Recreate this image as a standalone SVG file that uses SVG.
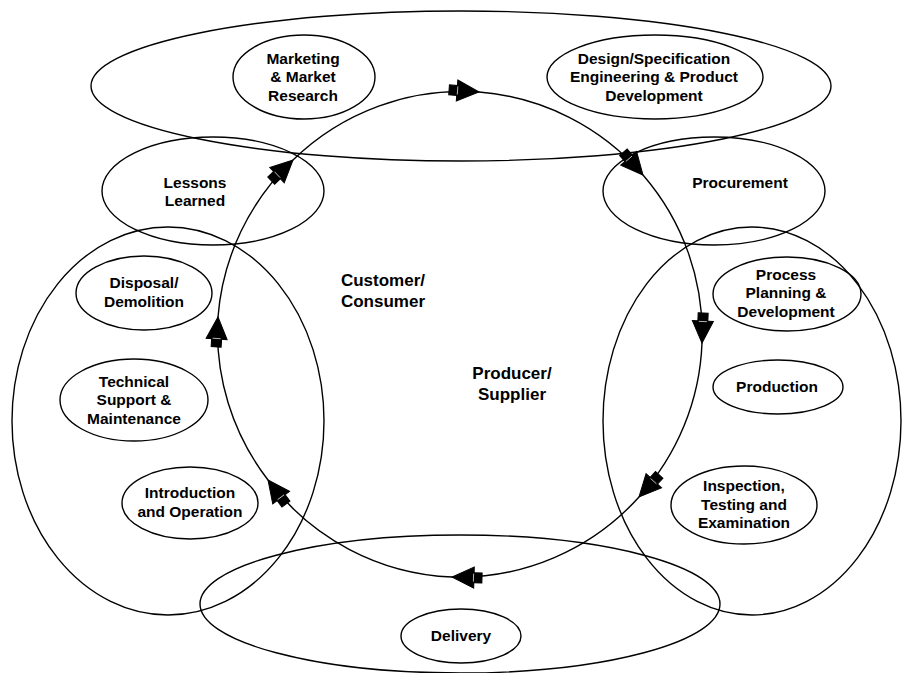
<svg xmlns="http://www.w3.org/2000/svg" width="903" height="673" viewBox="0 0 903 673">
  <style>
    .ring { fill: none; stroke: #000; stroke-width: 1.4; }
    .lbl { font-family: "Liberation Sans", Arial, sans-serif; font-weight: bold; font-size: 15.5px; text-anchor: middle; fill: #000; }
    .big { font-size: 17px; }
    .flow { fill: none; stroke: #000; stroke-width: 1.4; marker-end: url(#head); }
  </style>
  <defs>
    <!-- square collar followed by a solid triangular head, tip at the path end -->
    <marker id="head" markerUnits="userSpaceOnUse" markerWidth="40" markerHeight="30" refX="23" refY="0" orient="auto" overflow="visible">
      <rect x="-7" y="-5" width="8" height="10" fill="#000" stroke="#000" stroke-width="1"/>
      <path d="M1,-10.5 L23,0 L1,10.5 Z" fill="#000" stroke="#000" stroke-width="1" stroke-linejoin="miter"/>
      <line x1="1.5" y1="-4" x2="1.5" y2="4" stroke="#fff" stroke-width="0.7"/>
    </marker>
  </defs>

  <rect width="903" height="673" fill="#fff"/>

  <!-- large phase regions -->
  <g id="region-top"><ellipse class="ring" cx="461" cy="86" rx="370" ry="75"/></g>
  <g id="region-left"><ellipse class="ring" cx="168" cy="421" rx="156" ry="194"/></g>
  <g id="region-right"><ellipse class="ring" cx="752" cy="421" rx="149" ry="194"/></g>
  <g id="region-bottom"><ellipse class="ring" cx="460" cy="604" rx="260" ry="69"/></g>

  <!-- lifecycle stages -->
  <g id="marketing">
    <ellipse class="ring" cx="304" cy="77" rx="71" ry="42"/>
    <text class="lbl" x="303" y="64">Marketing</text>
    <text class="lbl" x="303" y="82">&amp; Market</text>
    <text class="lbl" x="303" y="101">Research</text>
  </g>
  <g id="design">
    <ellipse class="ring" cx="655" cy="77" rx="108" ry="42"/>
    <text class="lbl" x="654" y="64">Design/Specification</text>
    <text class="lbl" x="654" y="82">Engineering &amp; Product</text>
    <text class="lbl" x="654" y="101">Development</text>
  </g>
  <g id="lessons">
    <ellipse class="ring" cx="213" cy="191" rx="111" ry="54"/>
    <text class="lbl" x="195" y="188">Lessons</text>
    <text class="lbl" x="195" y="206">Learned</text>
  </g>
  <g id="procurement">
    <ellipse class="ring" cx="714" cy="191" rx="111" ry="54"/>
    <text class="lbl" x="740" y="188">Procurement</text>
  </g>
  <g id="disposal">
    <ellipse class="ring" cx="144" cy="293" rx="68" ry="37"/>
    <text class="lbl" x="144" y="288">Disposal/</text>
    <text class="lbl" x="144" y="307">Demolition</text>
  </g>
  <g id="support">
    <ellipse class="ring" cx="134" cy="400" rx="74" ry="41"/>
    <text class="lbl" x="134" y="387">Technical</text>
    <text class="lbl" x="134" y="405">Support &amp;</text>
    <text class="lbl" x="134" y="424">Maintenance</text>
  </g>
  <g id="introduction">
    <ellipse class="ring" cx="190" cy="503" rx="68" ry="36"/>
    <text class="lbl" x="190" y="498">Introduction</text>
    <text class="lbl" x="190" y="517">and Operation</text>
  </g>
  <g id="planning">
    <ellipse class="ring" cx="787" cy="294" rx="74" ry="37"/>
    <text class="lbl" x="786" y="280">Process</text>
    <text class="lbl" x="786" y="298">Planning &amp;</text>
    <text class="lbl" x="786" y="317">Development</text>
  </g>
  <g id="production">
    <ellipse class="ring" cx="778" cy="387" rx="65" ry="27"/>
    <text class="lbl" x="777" y="392">Production</text>
  </g>
  <g id="inspection">
    <ellipse class="ring" cx="744" cy="505" rx="73" ry="39"/>
    <text class="lbl" x="744" y="491">Inspection,</text>
    <text class="lbl" x="744" y="510">Testing and</text>
    <text class="lbl" x="744" y="528">Examination</text>
  </g>
  <g id="delivery">
    <ellipse class="ring" cx="461" cy="636" rx="60" ry="27"/>
    <text class="lbl" x="461" y="641">Delivery</text>
  </g>

  <!-- side captions -->
  <g id="customer">
    <text class="lbl big" x="383" y="286">Customer/</text>
    <text class="lbl big" x="383" y="307">Consumer</text>
  </g>
  <g id="producer">
    <text class="lbl big" x="512" y="379">Producer/</text>
    <text class="lbl big" x="512" y="400">Supplier</text>
  </g>

  <!-- clockwise lifecycle loop, one arc per step -->
  <g id="connectors">
    <path class="flow" d="M293,160 A242,242 0 0 1 479,92"/>
    <path class="flow" d="M479,92 A242,242 0 0 1 643,175"/>
    <path class="flow" d="M643,175 A242,242 0 0 1 702,343"/>
    <path class="flow" d="M702,343 A242,242 0 0 1 639,497"/>
    <path class="flow" d="M639,497 A242,242 0 0 1 452,577"/>
    <path class="flow" d="M452,577 A242,242 0 0 1 268,480"/>
    <path class="flow" d="M268,480 A242,242 0 0 1 218,317"/>
    <path class="flow" d="M218,317 A242,242 0 0 1 293,160"/>
  </g>
</svg>
